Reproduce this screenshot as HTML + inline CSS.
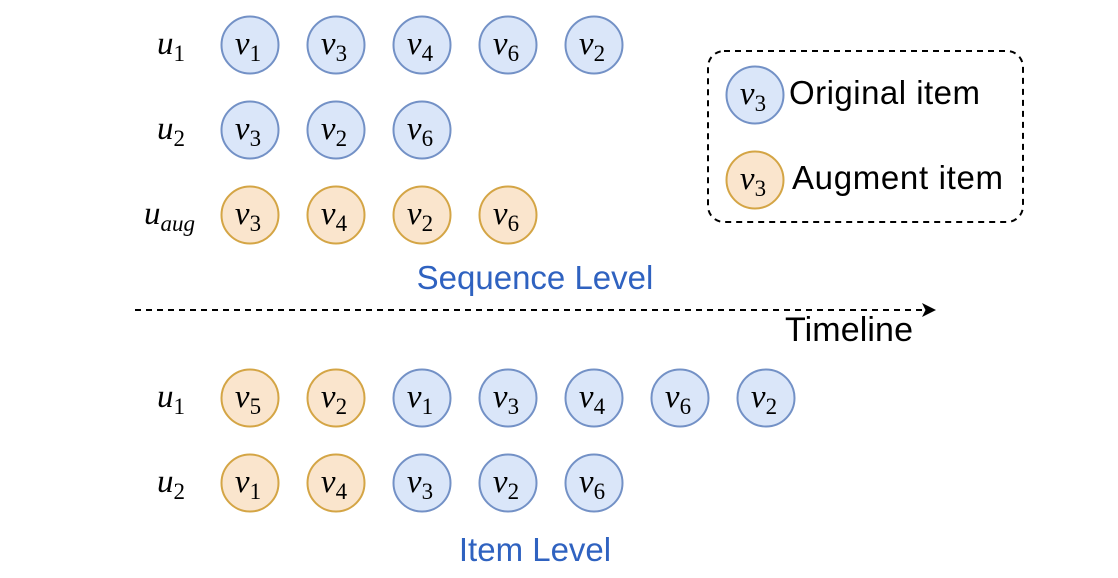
<!DOCTYPE html>
<html><head><meta charset="utf-8"><style>
html,body{margin:0;padding:0;background:#fff;}
svg{display:block;}
.m{font-family:"Liberation Serif",serif;font-style:italic;}
.s{font-family:"Liberation Serif",serif;font-style:normal;}
.t{font-family:"Liberation Sans",sans-serif;}
</style></head><body>
<svg id="c" width="1118" height="578" viewBox="0 0 1118 578">
<defs><marker id="ah" markerWidth="14" markerHeight="14" refX="12" refY="7" orient="auto" markerUnits="userSpaceOnUse"><path d="M0,0 L14,7 L0,14 L3.5,7 Z" fill="#000"/></marker></defs>
<line x1="135" y1="310" x2="934" y2="310" stroke="#000" stroke-width="2" stroke-dasharray="6,5" marker-end="url(#ah)"/>
<text x="785" y="341" class="t" font-size="34" textLength="128">Timeline</text>
<text x="535" y="289" class="t" font-size="33" fill="#2f62c0" text-anchor="middle">Sequence Level</text>
<text x="535" y="561" class="t" font-size="33" fill="#2f62c0" text-anchor="middle">Item Level</text>
<rect x="708" y="51" width="315" height="171" rx="16" fill="none" stroke="#000" stroke-width="2" stroke-dasharray="6,5"/>
<text x="789" y="104" class="t" font-size="33" textLength="191">Original item</text>
<text x="792" y="189" class="t" font-size="33" textLength="211">Augment item</text>
<g id="g"></g>
</svg>
<script>
const rowLabels=["1","2","aug","1","2"];
const rowY=[45,130,215,398,483];
const rowItems=[["o1","o3","o4","o6","o2"],["o3","o2","o6"],["a3","a4","a2","a6"],["a5","a2","o1","o3","o4","o6","o2"],["a1","a4","o3","o2","o6"]];
const g=document.getElementById('g');
const NS="http://www.w3.org/2000/svg";
function node(item,cx,cy,name){
  const aug=item[0]==='a';
  const grp=document.createElementNS(NS,'g');
  
  
  const c=document.createElementNS(NS,'circle');
  c.setAttribute('cx',cx);c.setAttribute('cy',cy);c.setAttribute('r',28.5);
  c.setAttribute('fill',aug?'#fae5cd':'#dae6f9');
  c.setAttribute('stroke',aug?'#d4a545':'#7391c6');
  c.setAttribute('stroke-width',2);
  grp.appendChild(c);
  const t=document.createElementNS(NS,'text');
  t.setAttribute('x',cx-2);t.setAttribute('y',cy+9);
  t.setAttribute('text-anchor','middle');t.setAttribute('class','m');t.setAttribute('font-size','33');
  t.innerHTML='v<tspan class="s" font-size="23" dy="7">'+item.slice(1)+'</tspan>';
  grp.appendChild(t);
  g.appendChild(grp);
}
rowItems.forEach((items,r)=>{
  const y=rowY[r];
  const lab=document.createElementNS(NS,'text');
  
  
  lab.setAttribute('x',r===2?144:157);lab.setAttribute('y',y+9);
  lab.setAttribute('class','m');lab.setAttribute('font-size','33');
  lab.innerHTML='u<tspan font-size="23" dy="7"'+(r===2?'':' class="s"')+'>'+rowLabels[r]+'</tspan>';
  g.appendChild(lab);
  items.forEach((it,i)=>node(it,250+86*i,y,'item-node-r'+r+'-'+i));
});
node("o3",755,95,'legend-original-icon');
node("a3",755,180,'legend-augment-icon');
</script>
</body></html>
